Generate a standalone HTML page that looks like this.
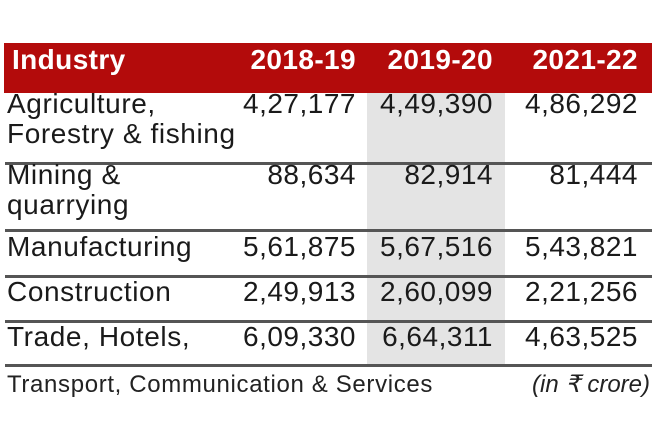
<!DOCTYPE html>
<html><head><style>
body{margin:0;width:660px;height:440px;background:#fff;position:relative;overflow:hidden;font-family:"Liberation Sans",sans-serif;}
.a{position:absolute;white-space:nowrap;line-height:1;}
.t{font-size:28px;color:#1a1a1a;letter-spacing:0.6px}
.n{letter-spacing:0.5px}
.r{text-align:right;width:220px}
.h{font-size:28px;font-weight:bold;color:#fff;letter-spacing:0.4px}
.l{position:absolute;left:5px;width:647px;height:3px;background:#555;}
</style></head><body>
<div class="a" style="left:4px;top:43px;width:648px;height:50px;background:#b30b0b"></div>
<div class="a" style="left:367px;top:93px;width:138px;height:273px;background:#e4e4e4"></div>
<div class="a h" style="left:12px;top:46px">Industry</div>
<div class="a h r" style="left:136px;top:46px">2018-19</div>
<div class="a h r" style="left:273px;top:46px">2019-20</div>
<div class="a h r" style="left:418px;top:46px">2021-22</div>
<div class="l" style="top:162px"></div>
<div class="l" style="top:229px"></div>
<div class="l" style="top:275px"></div>
<div class="l" style="top:320px"></div>
<div class="l" style="top:364px"></div>
<div class="a t" style="left:7px;top:90px">Agriculture,</div>
<div class="a t" style="left:7px;top:120px">Forestry &amp; fishing</div>
<div class="a t" style="left:7px;top:161px">Mining &amp;</div>
<div class="a t" style="left:7px;top:191px">quarrying</div>
<div class="a t" style="left:7px;top:233px">Manufacturing</div>
<div class="a t" style="left:7px;top:278px">Construction</div>
<div class="a t" style="left:7px;top:323px">Trade, Hotels,</div>
<div class="a t n r" style="left:136px;top:90px">4,27,177</div>
<div class="a t n r" style="left:273px;top:90px">4,49,390</div>
<div class="a t n r" style="left:418px;top:90px">4,86,292</div>
<div class="a t n r" style="left:136px;top:161px">88,634</div>
<div class="a t n r" style="left:273px;top:161px">82,914</div>
<div class="a t n r" style="left:418px;top:161px">81,444</div>
<div class="a t n r" style="left:136px;top:233px">5,61,875</div>
<div class="a t n r" style="left:273px;top:233px">5,67,516</div>
<div class="a t n r" style="left:418px;top:233px">5,43,821</div>
<div class="a t n r" style="left:136px;top:278px">2,49,913</div>
<div class="a t n r" style="left:273px;top:278px">2,60,099</div>
<div class="a t n r" style="left:418px;top:278px">2,21,256</div>
<div class="a t n r" style="left:136px;top:323px">6,09,330</div>
<div class="a t n r" style="left:273px;top:323px">6,64,311</div>
<div class="a t n r" style="left:418px;top:323px">4,63,525</div>
<div class="a" style="left:7px;top:373px;font-size:24px;letter-spacing:0.65px;color:#222">Transport, Communication &amp; Services</div>
<div class="a" style="left:452px;top:373px;width:198px;text-align:right;font-size:24px;font-style:italic;color:#222">(in ₹ crore)</div>
</body></html>
